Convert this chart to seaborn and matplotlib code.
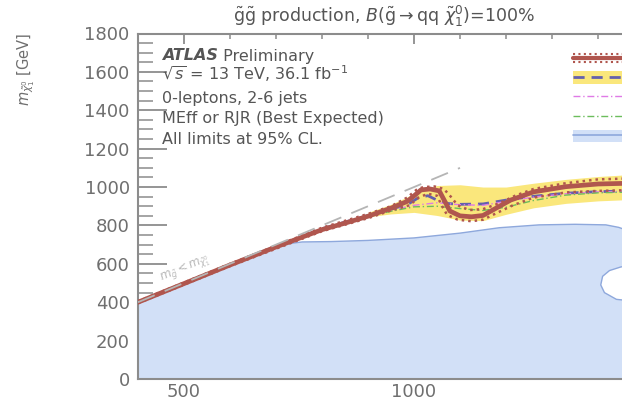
import numpy as np
import pandas as pd
import seaborn as sns
import matplotlib
matplotlib.use("Agg")
import matplotlib.pyplot as plt
from matplotlib.lines import Line2D
from matplotlib.patches import Patch
from matplotlib.legend_handler import HandlerBase, HandlerTuple
from matplotlib.ticker import MultipleLocator, FixedLocator

# ---------------- data (GeV) ----------------
obs_x = [400, 500, 600, 700, 800, 850, 900, 950, 985, 1003, 1015, 1035, 1055, 1066, 1078,
         1100, 1125, 1150, 1180, 1210, 1260, 1330, 1400, 1470]
obs_y = [400, 497, 594, 688, 778, 812, 848, 890, 925, 960, 985, 990, 980, 930, 875,
         850, 845, 852, 892, 932, 975, 1002, 1016, 1020]

obs_up_x = [400, 600, 800, 900, 950, 985, 1005, 1020, 1045, 1065, 1080, 1095, 1120, 1150,
            1185, 1220, 1260, 1330, 1400, 1470]
obs_up_y = [405, 600, 788, 860, 900, 945, 985, 1000, 1003, 990, 950, 905, 880, 885,
            915, 955, 990, 1020, 1040, 1045]
obs_dn_x = [400, 600, 800, 900, 950, 990, 1010, 1030, 1050, 1060, 1072, 1095, 1125, 1150,
            1180, 1215, 1260, 1330, 1400, 1470]
obs_dn_y = [395, 588, 770, 838, 878, 905, 945, 965, 955, 905, 855, 830, 822, 830,
            865, 905, 945, 972, 980, 984]

exp_x = [400, 600, 800, 900, 950, 990, 1010, 1030, 1050, 1075, 1100, 1150, 1200, 1260,
         1330, 1400, 1470]
exp_y = [400, 594, 783, 852, 884, 915, 945, 955, 932, 914, 910, 912, 932, 952,
         968, 976, 980]

band_x = [900, 950, 1000, 1050, 1100, 1150, 1200, 1260, 1330, 1400, 1470]
band_up = [868, 910, 965, 1008, 1012, 1000, 1000, 1020, 1040, 1055, 1065]
band_dn = [845, 860, 868, 852, 828, 825, 858, 892, 915, 928, 935]

meff_x = [400, 600, 800, 900, 950, 1000, 1050, 1100, 1150, 1200, 1260, 1330, 1400, 1470]
meff_y = [400, 594, 782, 850, 880, 905, 918, 908, 905, 925, 948, 965, 975, 978]
rjr_x = [400, 600, 800, 900, 950, 1000, 1050, 1100, 1150, 1200, 1260, 1330, 1400, 1470]
rjr_y = [400, 594, 780, 846, 874, 897, 900, 888, 878, 895, 930, 958, 970, 974]

prev_x = [400, 400, 500, 600, 650, 672, 690, 710, 757, 820, 900, 1000, 1100, 1185, 1272,
          1350, 1417, 1445, 1480, 1560, 1560, 1480, 1450, 1425, 1410, 1406, 1414, 1440,
          1480, 1560, 1560]
prev_y = [0, 400, 498, 596, 648, 670, 686, 700, 714, 716, 722, 735, 760, 788, 803,
          806, 803, 790, 760, 700, 600, 590, 584, 565, 535, 490, 450, 415,
          405, 400, 0]

diag_x = [400, 1100]

y_major = [0, 200, 400, 600, 800, 1000, 1200, 1400, 1600, 1800]
x_major = [500, 1000]

# ---------------- style ----------------
sns.set_theme(style="ticks")
plt.rcParams["font.family"] = ["DejaVu Sans"]
plt.rcParams["mathtext.fontset"] = "dejavusans"

c_obs = "#b0564e"
c_exp = "#6460ad"
c_band = "#fae77c"
c_meff = "#e07ae6"
c_rjr = "#6cbd5c"
c_prev_fill = "#d2e0f7"
c_prev_line = "#8ea8dc"
c_grey_txt = "#6f6f6f"
c_spine = "#8c8c8c"

W, H = 622, 401
fig = plt.figure(figsize=(W / 100, H / 100), dpi=100)
px_per_gev = 0.46
x0_px, y0_px, ytop_px = 138, 379, 33.5
xmax = 1452
ax = fig.add_axes([x0_px / W, 1 - y0_px / H,
                   (xmax - 400) * px_per_gev / W, (y0_px - ytop_px) / H])
ax.set_xlim(400, xmax)
ax.set_ylim(0, 1800)

# previous limit region
ax.fill(prev_x, prev_y, facecolor=c_prev_fill, edgecolor=c_prev_line, lw=1.0, zorder=1)

# expected band
ax.fill_between(band_x, band_dn, band_up, color=c_band, lw=0, zorder=2)

df_exp = pd.DataFrame({"x": exp_x, "y": exp_y})
sns.lineplot(data=df_exp, x="x", y="y", sort=False, estimator=None, color=c_exp,
             lw=2.0, linestyle=(0, (4, 2.5)), ax=ax, zorder=3)
sns.lineplot(x=meff_x, y=meff_y, sort=False, estimator=None, color=c_meff, lw=1.0,
             linestyle=(0, (5, 2, 1, 2)), ax=ax, zorder=3)
sns.lineplot(x=rjr_x, y=rjr_y, sort=False, estimator=None, color=c_rjr, lw=1.0,
             linestyle=(0, (5, 2, 1, 2)), ax=ax, zorder=3)

sns.lineplot(x=obs_up_x, y=obs_up_y, sort=False, estimator=None, color=c_obs, lw=1.8,
             linestyle=(0, (1, 1.6)), ax=ax, zorder=4)
sns.lineplot(x=obs_dn_x, y=obs_dn_y, sort=False, estimator=None, color=c_obs, lw=1.8,
             linestyle=(0, (1, 1.6)), ax=ax, zorder=4)
sns.lineplot(x=obs_x, y=obs_y, sort=False, estimator=None, color=c_obs, lw=3.4,
             ax=ax, zorder=5)

# kinematic diagonal
sns.lineplot(x=diag_x, y=diag_x, color="#b5b5b5", lw=1.3, linestyle=(0, (10, 6)),
             ax=ax, zorder=6)
p1 = ax.transData.transform((450, 450))
p2 = ax.transData.transform((650, 650))
ang = np.degrees(np.arctan2(p2[1] - p1[1], p2[0] - p1[0]))
ax.text(502, 572, r"$m_{\tilde{g}} < m_{\tilde{\chi}_1^0}$", rotation=ang,
        rotation_mode="anchor", ha="center", va="center", fontsize=8.5,
        color="#b8b8b8", zorder=6)

# axes styling
for s in ["left", "bottom", "top"]:
    ax.spines[s].set_color(c_spine)
    ax.spines[s].set_linewidth(1.5)
ax.spines["right"].set_visible(False)
ax.xaxis.set_major_locator(FixedLocator(x_major))
ax.xaxis.set_minor_locator(MultipleLocator(100))
ax.yaxis.set_major_locator(FixedLocator(y_major))
ax.yaxis.set_minor_locator(MultipleLocator(50))
ax.tick_params(axis="y", which="major", direction="in", length=21, width=1.3,
               color=c_spine, labelcolor=c_grey_txt, labelsize=13, pad=6, right=False)
ax.tick_params(axis="y", which="minor", direction="in", length=10.5, width=1.1,
               color=c_spine, right=False)
ax.tick_params(axis="x", which="major", direction="in", length=7.5, width=1.3,
               color=c_spine, labelcolor=c_grey_txt, labelsize=13, pad=3, top=True)
ax.tick_params(axis="x", which="minor", direction="in", length=3.8, width=1.1,
               color=c_spine, top=True)
ax.set_xlabel("")
ax.set_ylabel(r"$m_{\tilde{\chi}_1^0}$ [GeV]", fontsize=10.5, color=c_grey_txt, loc="top")
ax.yaxis.set_label_coords(-101 / ((xmax - 400) * px_per_gev), 1.0)

# title
fig.text(384 / W, 1 - 16 / H,
         r"$\tilde{\mathrm{g}}\tilde{\mathrm{g}}$ production, "
         r"$B(\tilde{\mathrm{g}}\rightarrow \mathrm{qq}\ \tilde{\chi}_1^0)$=100%",
         ha="center", va="center", fontsize=12.5, color="#555555")

# info text block
tx = 162 / W
fs_info = 11.5
t_atlas = fig.text(tx, 1 - 56 / H, "ATLAS", fontsize=fs_info, fontweight="bold",
                   fontstyle="italic", color="#555555", va="center")
ax.annotate(" Preliminary", xy=(1, 0.5), xycoords=t_atlas, va="center", ha="left",
            fontsize=fs_info, color="#555555", annotation_clip=False)
info_lines = [r"$\sqrt{s}$ = 13 TeV, 36.1 fb$^{-1}$", "0-leptons, 2-6 jets",
              "MEff or RJR (Best Expected)", "All limits at 95% CL."]
info_y = [74, 98, 118, 139]
for t, yy in zip(info_lines, info_y):
    fig.text(tx, 1 - yy / H, t, fontsize=fs_info, color="#555555", va="center")

# legend (only the symbols fall inside the cropped picture)
class ObsHandler(HandlerBase):
    def create_artists(self, legend, orig_handle, xdescent, ydescent, width, height,
                       fontsize, trans):
        yc = height / 2 - ydescent
        xa, xb = -xdescent, width - xdescent
        off = 0.34 * height
        arts = []
        for dy, ls, lw in [(off, (0, (1, 1.6)), 1.5), (-off, (0, (1, 1.6)), 1.5), (0, "-", 3.0)]:
            ln = Line2D([xa, xb], [yc + dy, yc + dy], color=c_obs, ls=ls, lw=lw)
            ln.set_transform(trans)
            arts.append(ln)
        return arts

h_obs = Line2D([], [], color=c_obs)
h_exp = (Patch(facecolor=c_band, edgecolor="none"),
         Line2D([], [], color=c_exp, lw=2.0, ls=(0, (4, 2.5))))
h_meff = Line2D([], [], color=c_meff, lw=1.0, ls=(0, (5, 2, 1, 2)))
h_rjr = Line2D([], [], color=c_rjr, lw=1.0, ls=(0, (5, 2, 1, 2)))
h_prev = (Patch(facecolor=c_prev_fill, edgecolor="none"),
          Line2D([], [], color=c_prev_line, lw=1.2))
leg = ax.legend([h_obs, h_exp, h_meff, h_rjr, h_prev], [""] * 5,
                handler_map={h_obs: ObsHandler(), tuple: HandlerTuple(ndivide=1)},
                loc="upper left", bbox_to_anchor=(573 / W, 1 - 51.5 / H),
                bbox_transform=fig.transFigure, frameon=False, fontsize=10,
                handlelength=6, handleheight=1.0, labelspacing=0.4,
                borderpad=0, borderaxespad=0, handletextpad=0)

fig.savefig("out.png", dpi=100)
